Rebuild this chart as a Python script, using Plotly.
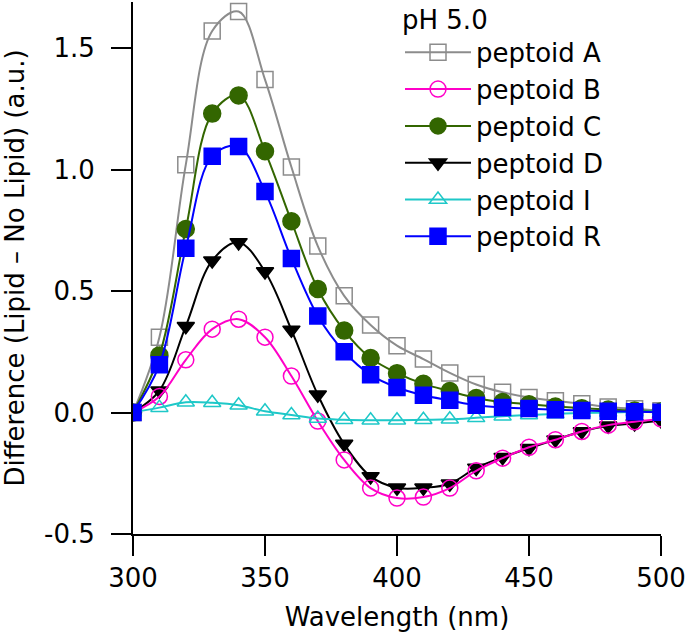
import plotly.graph_objects as go

wavelength = [300, 310, 320, 330, 340, 350, 360, 370, 380, 390, 400,
              410, 420, 430, 440, 450, 460, 470, 480, 490, 500]

peptoid_A = [0, 0.31, 1.02, 1.57, 1.65, 1.37, 1.01, 0.685, 0.48, 0.36, 0.275,
             0.22, 0.163, 0.115, 0.083, 0.062, 0.048, 0.036, 0.023, 0.015, 0.007]
peptoid_B = [0, 0.066, 0.217, 0.343, 0.384, 0.31, 0.15, -0.035, -0.195, -0.311, -0.352,
             -0.348, -0.311, -0.24, -0.188, -0.143, -0.112, -0.078, -0.052, -0.038, -0.026]
peptoid_C = [0, 0.235, 0.755, 1.23, 1.305, 1.075, 0.787, 0.508, 0.337, 0.224, 0.162,
             0.118, 0.088, 0.06, 0.043, 0.034, 0.025, 0.018, 0.012, 0.008, 0.004]
peptoid_D = [0, 0.09, 0.355, 0.625, 0.70, 0.58, 0.34, 0.073, -0.13, -0.263, -0.31,
             -0.31, -0.293, -0.228, -0.184, -0.147, -0.112, -0.078, -0.055, -0.045, -0.033]
peptoid_I = [0, 0.02, 0.042, 0.04, 0.03, 0.005, -0.01, -0.025, -0.03, -0.032, -0.032,
             -0.03, -0.028, -0.022, -0.015, -0.01, -0.006, -0.002, 0.0, 0.003, 0.005]
peptoid_R = [0, 0.196, 0.676, 1.055, 1.095, 0.909, 0.634, 0.397, 0.25, 0.155, 0.103,
             0.071, 0.05, 0.03, 0.021, 0.016, 0.011, 0.008, 0.005, 0.003, 0.001]

x_ticks = [300, 350, 400, 450, 500]
y_ticks = [-0.5, 0.0, 0.5, 1.0, 1.5]
y_tick_text = ["-0.5", "0.0", "0.5", "1.0", "1.5"]

FONT = "DejaVu Sans"

# name, values, color, symbol, size, rank (legend order); list order = draw order
series = [
    ("peptoid A", peptoid_A, "#8c8c8c", "square-open", 16, 1),
    ("peptoid D", peptoid_D, "#000000", "triangle-down", 15, 4),
    ("peptoid B", peptoid_B, "#ff00c8", "circle-open", 16, 2),
    ("peptoid C", peptoid_C, "#336600", "circle", 17, 3),
    ("peptoid I", peptoid_I, "#1ec8c8", "triangle-up-open", 15, 5),
    ("peptoid R", peptoid_R, "#0000ff", "square", 16, 6),
]

fig = go.Figure()
for name, vals, color, symbol, size, rank in series:
    fig.add_trace(go.Scatter(
        x=wavelength, y=vals, name=name, mode="lines+markers",
        line=dict(color=color, width=2, shape="spline", smoothing=1.0),
        marker=dict(symbol=symbol, size=size, color=color,
                    line=dict(color=color, width=1.5)),
        legendrank=rank,
    ))

fig.update_layout(
    width=689, height=635,
    margin=dict(l=133, r=28, t=2, b=101, autoexpand=False),
    plot_bgcolor="white", paper_bgcolor="white",
    font=dict(family=FONT, size=26, color="black"),
    showlegend=True,
    legend=dict(
        x=(400 - 133) / 528, xanchor="left", y=1.013, yanchor="top",
        bgcolor="rgba(0,0,0,0)", borderwidth=0,
        font=dict(family=FONT, size=26, color="black"),
        title=dict(text="pH 5.0", font=dict(family=FONT, size=26, color="black")),
        itemwidth=66, tracegroupgap=0,
    ),
    xaxis=dict(
        range=[300, 500], tickvals=x_ticks, ticks="outside", ticklen=20, tickwidth=2,
        tickcolor="black", showline=True, linewidth=2, linecolor="black",
        showgrid=False, zeroline=False, tickfont=dict(family=FONT, size=26),
        automargin=False,
        title=dict(text="Wavelength (nm)", font=dict(family=FONT, size=26), standoff=16),
    ),
    yaxis=dict(
        range=[-0.5, -0.5 + 532 / 243], tickvals=y_ticks, ticktext=y_tick_text,
        ticks="outside", ticklen=20, tickwidth=2, tickcolor="black",
        showline=True, linewidth=2, linecolor="black",
        showgrid=False, zeroline=False, tickfont=dict(family=FONT, size=26),
        ticklabelstandoff=11,
        automargin=False,
        title=dict(text="Difference (Lipid \u2013 No Lipid) (a.u.)",
                   font=dict(family=FONT, size=26), standoff=15),
    ),
)

fig.write_html(
    "out.html",
    config={"displayModeBar": False},
    post_script="document.body.style.margin='0';document.body.style.padding='0';",
)
